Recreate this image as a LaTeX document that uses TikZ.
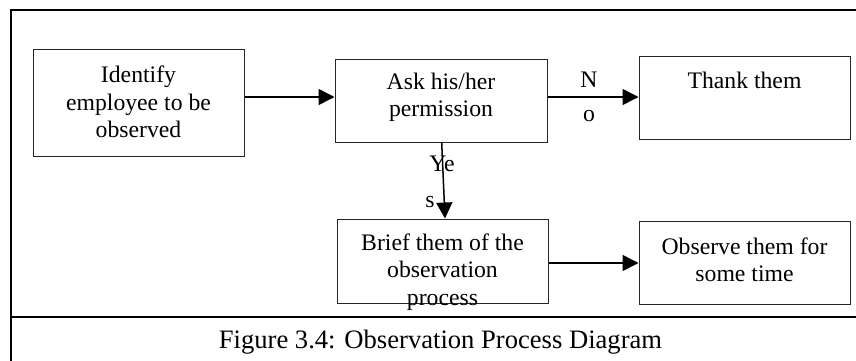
\documentclass[tikz,border=0pt]{standalone}
\usepackage{fontspec}
\setmainfont{Liberation Serif}
\usetikzlibrary{arrows.meta}
\tikzset{
  box/.style={draw=black!85, line width=1pt, minimum width=#1, inner sep=0pt, rectangle},
  txt/.style={align=center, inner sep=0pt, font=\fontsize{23.7}{27.5}\selectfont},
  lbl/.style={inner sep=0pt, font=\fontsize{23.7}{27.5}\selectfont},
  caplbl/.style={inner sep=0pt, font=\fontsize{26.6}{30}\selectfont},
  arr/.style={line width=1.5pt, -{Triangle[length=16pt,width=16pt]}},
  frame/.style={line width=2.2pt, black}
}
\begin{document}
\begin{tikzpicture}[x=1pt,y=-1pt]
\useasboundingbox (0,0) rectangle (856,360);
\clip (0,0) rectangle (856,360);
% outer frame
\draw[frame] (866,10) -- (11,10) -- (11,370);
\draw[frame] (11,317) -- (866,317);
% boxes
\node[box=211pt, minimum height=107pt] (b1) at (138.5,102.5) {};
\node[box=212pt, minimum height=83pt] (b2) at (441,100.5) {};
\node[box=211pt, minimum height=83pt] (b3) at (744.5,97.5) {};
\node[box=211pt, minimum height=84pt] (b4) at (442.5,261) {};
\node[box=211pt, minimum height=83pt] (b5) at (744.5,262.5) {};
% texts
\node[txt] (t1) at (138.5,102) {Identify\\employee to be\\observed};
\node[txt] (t2) at (441,97.5) {Ask his/her\\permission};
\node[txt] (t3) at (744.5,80) {Thank them};
\node[txt] (t4) at (442.5,272) {Brief them of the\\observation\\process};
\node[txt] (t5) at (744.5,260) {Observe them for\\some time};
% arrows
\draw[arr] (b1.east |- 0,97) -- (b2.west |- 0,97);
\draw[arr] (b2.east |- 0,97) -- (b3.west |- 0,97);
\draw[arr] ([xshift=0.7pt]b2.south) -- ([xshift=2.5pt]b4.north);
\draw[arr] (b4.east |- 0,263) -- (b5.west |- 0,263);
% labels
\node[lbl] (n1) at (589,80) {N};
\node[lbl] (n2) at (589,116) {o};
\node[lbl] (y1) at (442,164) {Ye};
\node[lbl] (y2) at (430,202) {s};
% caption
\node[caplbl] (cap) at (440.5,342) {Figure 3.4: Observation Process Diagram};
\end{tikzpicture}
\end{document}
